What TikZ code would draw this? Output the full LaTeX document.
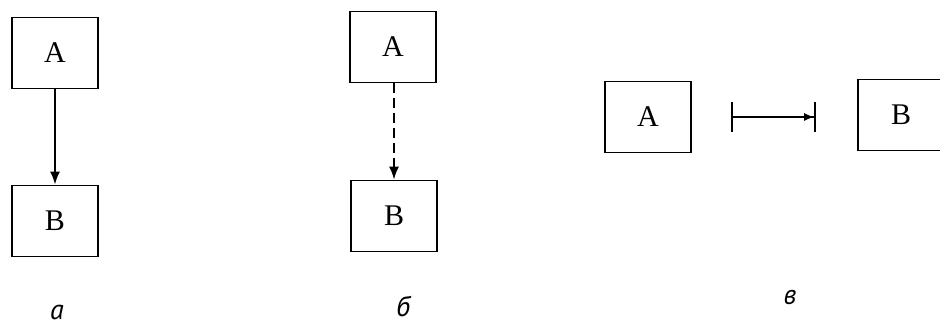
\documentclass[tikz,border=0pt]{standalone}
\usepackage{fontspec}
\setmainfont{Liberation Serif}
\newfontfamily\panelfont{PT Sans}
\usetikzlibrary{arrows.meta}

\begin{document}
\begin{tikzpicture}[x=0.5pt, y=-0.5pt,
    every node/.style={font=\fontsize{15}{18}\selectfont},
    blockbox/.style={draw, line width=0.9pt, minimum width=43pt, minimum height=35.5pt, inner sep=0pt},
    link/.style={line width=0.9pt, -{Latex[length=6.5pt,width=5pt]}},
    caption/.style={font=\panelfont\itshape\fontsize{14}{16}\selectfont}
]
\useasboundingbox (0,0) rectangle (940,324);

% a
\node[blockbox] (aA) at (55,53) {A};
\node[blockbox] (aB) at (55,221) {B};
\draw[link] (aA) -- (aB);
\node[caption] (la) at (57,312) {а};

% b
\node[blockbox] (bA) at (393,47) {A};
\node[blockbox] (bB) at (394,216) {B};
\draw[link, dash pattern=on 5pt off 2.5pt] (bA.south -| bB) -- (bB);
\node[caption] (lb) at (403,307) {б};

% v
\node[blockbox] (cA) at (648,117) {A};
\node[blockbox] (cB) at (901,115) {B};
\coordinate (c1) at (731,117);
\coordinate (c2) at (816,117);
\draw[line width=0.9pt, {Bar[width=15pt]}-{Latex[length=5pt,width=4pt] Bar[width=15pt]}] (c1) -- (c2);
\node[caption] (lc) at (790,298) {в};

\end{tikzpicture}
\end{document}
